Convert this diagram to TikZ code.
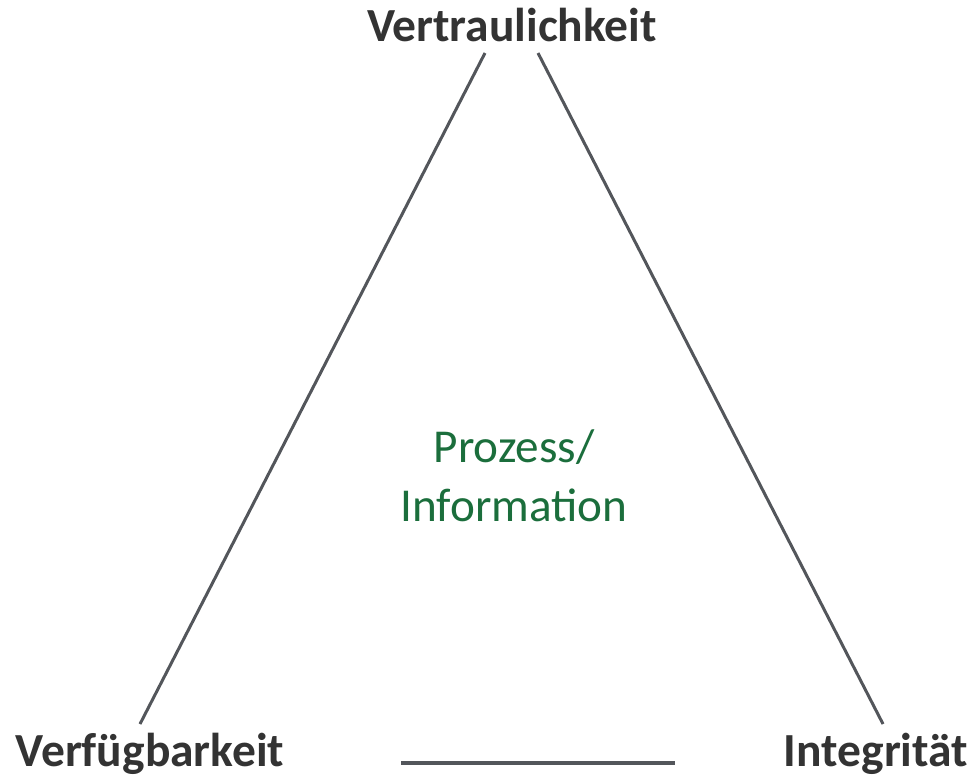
\documentclass[tikz,border=0pt]{standalone}
\usepackage{fontspec}
\setmainfont{Carlito}
\definecolor{linegray}{HTML}{53565B}
\definecolor{textgray}{HTML}{333333}
\definecolor{procgreen}{HTML}{1B6E3C}
\begin{document}
\begin{tikzpicture}[x=1pt,y=-1pt,
  edge/.style={draw=linegray,line width=3pt},
  corner/.style={font=\fontsize{47.5}{57}\selectfont\bfseries,text=textgray,inner sep=0pt,anchor=base},
  center/.style={font=\fontsize{47.2}{59}\selectfont,text=procgreen,inner sep=0pt,align=center}]
\useasboundingbox (0,0) rectangle (974,777);
\node[corner] (V) at (512,41) {Vertraulichkeit};
\node[corner] (F) at (150,766) {Verfügbarkeit};
\node[corner] (I) at (876,766) {Integrität};
\node[center] (P) at (514,476) {Prozess/\\Information};
\coordinate (vl) at (485,53);
\coordinate (vr) at (538,53);
\coordinate (fl) at (140,724);
\coordinate (ir) at (883,724);
\coordinate (bl) at (401,763);
\coordinate (br) at (675,763);
\draw[edge] (vl) -- (fl);
\draw[edge] (vr) -- (ir);
\draw[edge,line width=4pt] (bl) -- (br);
\end{tikzpicture}
\end{document}
